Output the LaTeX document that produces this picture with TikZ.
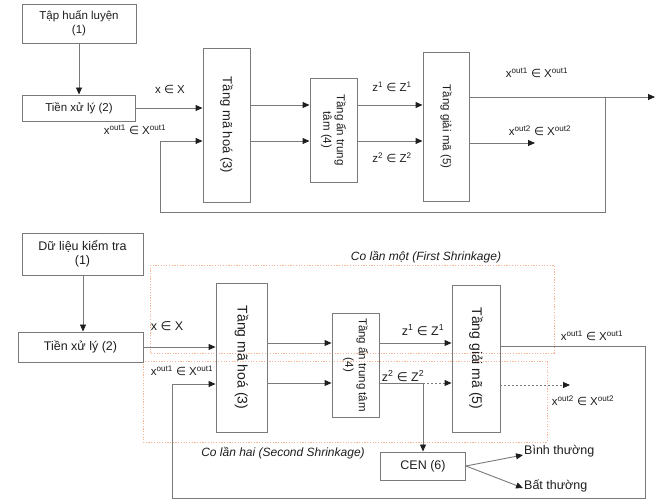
\documentclass[tikz,border=0pt]{standalone}
\usepackage{fontspec}
\setmainfont{Liberation Sans}
\newfontfamily\djv{DejaVu Sans}
\usetikzlibrary{arrows.meta}
\newcommand\elt{{\djv\char"2208}}
\newcommand\sps[1]{\textsuperscript{#1}}
\definecolor{linegray}{HTML}{7A7A7A}
\definecolor{txt}{HTML}{1E1E1E}
\definecolor{shrinkc}{HTML}{F7B597}
\begin{document}
\begin{tikzpicture}[x=1pt,y=-1pt,
  box/.style={draw=linegray, line width=0.9pt, inner sep=0pt, text=txt},
  conn/.style={draw=linegray, line width=0.9pt},
  arr/.style={conn, -{Triangle[length=7pt,width=6pt,color=txt]}},
  dotl/.style={dash pattern=on 2pt off 2pt},
  shrink/.style={draw=shrinkc, line width=0.7pt, dash pattern=on 1.2pt off 1.5pt},
  lbl/.style={inner sep=0pt, text=txt},
  topf/.style={font=\fontsize{11.5}{13.5}\selectfont},
  botf/.style={font=\fontsize{12.5}{14.5}\selectfont},
  rot/.style={lbl, rotate=-90, align=center}
]
\useasboundingbox[fill=white] (0,0) rectangle (657,502);

% ---------------- top diagram ----------------
\node[box, topf, align=center, minimum width=114pt, minimum height=39pt] (t1) at (79,23.5) {Tập huấn luyện\\(1)};
\node[box, topf, minimum width=113pt, minimum height=26pt] (t2) at (79,108) {Tiền xử lý (2)};
\node[box, minimum width=47pt, minimum height=154pt] (t3) at (226.5,125) {};
\node[rot, font=\fontsize{13}{15}\selectfont] (t3l) at (t3.center) {Tầng mã hoá (3)};
\node[box, minimum width=47pt, minimum height=104pt] (t4) at (333.5,130) {};
\node[rot, topf] (t4l) at (t4.center) {Tầng ẩn trung\\tâm (4)};
\node[box, minimum width=46pt, minimum height=149pt] (t5) at (446,126.5) {};
\node[rot, topf] (t5l) at (t5.center) {Tầng giải mã (5)};

\coordinate (tyA) at (0,105);
\coordinate (tyB) at (0,141);
\coordinate (tout) at (655,97);
\coordinate (tfb) at (605,97);
\coordinate (tfbc) at (160,212);
\coordinate (txo2) at (535,143);

\draw[arr] (t1.south) -- (t2.north);
\draw[arr] (t2.east) -- (t2.east -| t3.west);
\draw[arr] (t3.east |- tyA) -- (t4.west |- tyA);
\draw[arr] (t3.east |- tyB) -- (t4.west |- tyB);
\draw[arr] (t4.east |- tyA) -- (t5.west |- tyA);
\draw[arr] (t4.east |- tyB) -- (t5.west |- tyB);
\draw[arr] (t5.east |- tout) -- (tout);
\draw[arr] (tfb) |- (tfbc) |- (t3.west |- tyB);
\draw[arr] (t5.east |- txo2) -- (txo2);

\node[lbl, topf] (tlx) at (170,89) {x \elt{} X};
\node[lbl, topf] (tlxo1) at (135,130) {x\sps{out1} \elt{} X\sps{out1}};
\node[lbl, topf] (tlz1) at (392,87) {z\sps{1} \elt{} Z\sps{1}};
\node[lbl, topf] (tlz2) at (392,158) {z\sps{2} \elt{} Z\sps{2}};
\node[lbl, topf] (tlo1) at (537,73) {x\sps{out1} \elt{} X\sps{out1}};
\node[lbl, topf] (tlo2) at (540,131) {x\sps{out2} \elt{} X\sps{out2}};

% ---------------- bottom diagram ----------------
\draw[shrink] (150,265) rectangle (554,353);
\draw[shrink] (143,361) rectangle (547,442);
\node[lbl, font=\itshape\fontsize{12}{14}\selectfont] (s1) at (426,257) {Co lần một (First Shrinkage)};
\node[lbl, font=\itshape\fontsize{12}{14}\selectfont] (s2) at (283,453) {Co lần hai (Second Shrinkage)};

\node[box, botf, align=center, minimum width=121pt, minimum height=42pt] (b1) at (82.5,254) {Dữ liệu kiểm tra\\(1)};
\node[box, botf, minimum width=125pt, minimum height=30pt] (b2) at (80.5,347) {Tiền xử lý (2)};
\node[box, minimum width=51pt, minimum height=149pt] (b3) at (241.5,357.5) {};
\node[rot, font=\fontsize{14}{16}\selectfont] (b3l) at (b3.center) {Tầng mã hoá (3)};
\node[box, minimum width=47pt, minimum height=104pt] (b4) at (355.5,365) {};
\node[rot, topf] (b4l) at (b4.center) {Tầng ẩn trung tâm\\(4)};
\node[box, minimum width=48pt, minimum height=147pt] (b5) at (476,358.5) {};
\node[rot, font=\fontsize{14}{16}\selectfont] (b5l) at (b5.center) {Tầng giải mã (5)};
\node[box, botf, minimum width=85pt, minimum height=28pt] (cen) at (423,466) {CEN (6)};

\coordinate (byA) at (0,343);
\coordinate (byB) at (0,383);
\coordinate (bout) at (0,346);
\coordinate (bfb) at (645,346);
\coordinate (bfbc) at (172,498);
\coordinate (bfbin) at (0,384);
\coordinate (bsplit) at (423,383);
\coordinate (bxo2) at (570,385);
\coordinate (bn) at (523,455);
\coordinate (ba) at (523,488);
\coordinate (bdown) at (83,275);

\draw[arr] (bdown) -- (bdown |- b2.north);
\draw[arr] (b2.east) -- (b2.east -| b3.west);
\draw[arr] (b3.east |- byA) -- (b4.west |- byA);
\draw[arr] (b3.east |- byB) -- (b4.west |- byB);
\draw[arr] (b4.east |- byA) -- (b5.west |- byA);
\draw[conn] (b4.east |- byB) -- (bsplit);
\draw[arr, dotl] (bsplit) -- (b5.west |- byB);
\draw[arr] (bsplit) -- (cen.north);
\draw[conn] (b5.east |- bout) -- (bfb);
\draw[arr] (bfb) |- (bfbc) |- (b3.west |- bfbin);
\draw[arr, dotl] (b5.east |- bxo2) -- (bxo2);
\draw[arr] (cen.east) -- (bn);
\draw[arr] (cen.east) -- (ba);

\node[lbl, botf] (blx) at (167,326) {x \elt{} X};
\node[lbl, topf] (blxo1) at (182,371) {x\sps{out1} \elt{} X\sps{out1}};
\node[lbl, botf] (blz1) at (423,330) {z\sps{1} \elt{} Z\sps{1}};
\node[lbl, botf] (blz2) at (403,376) {z\sps{2} \elt{} Z\sps{2}};
\node[lbl, topf] (blo1) at (592,336) {x\sps{out1} \elt{} X\sps{out1}};
\node[lbl, topf] (blo2) at (583,401) {x\sps{out2} \elt{} X\sps{out2}};
\node[lbl, botf, anchor=west] (bnl) at (524,451) {Bình thường};
\node[lbl, botf, anchor=west] (bal) at (524,486) {Bất thường};
\end{tikzpicture}
\end{document}
